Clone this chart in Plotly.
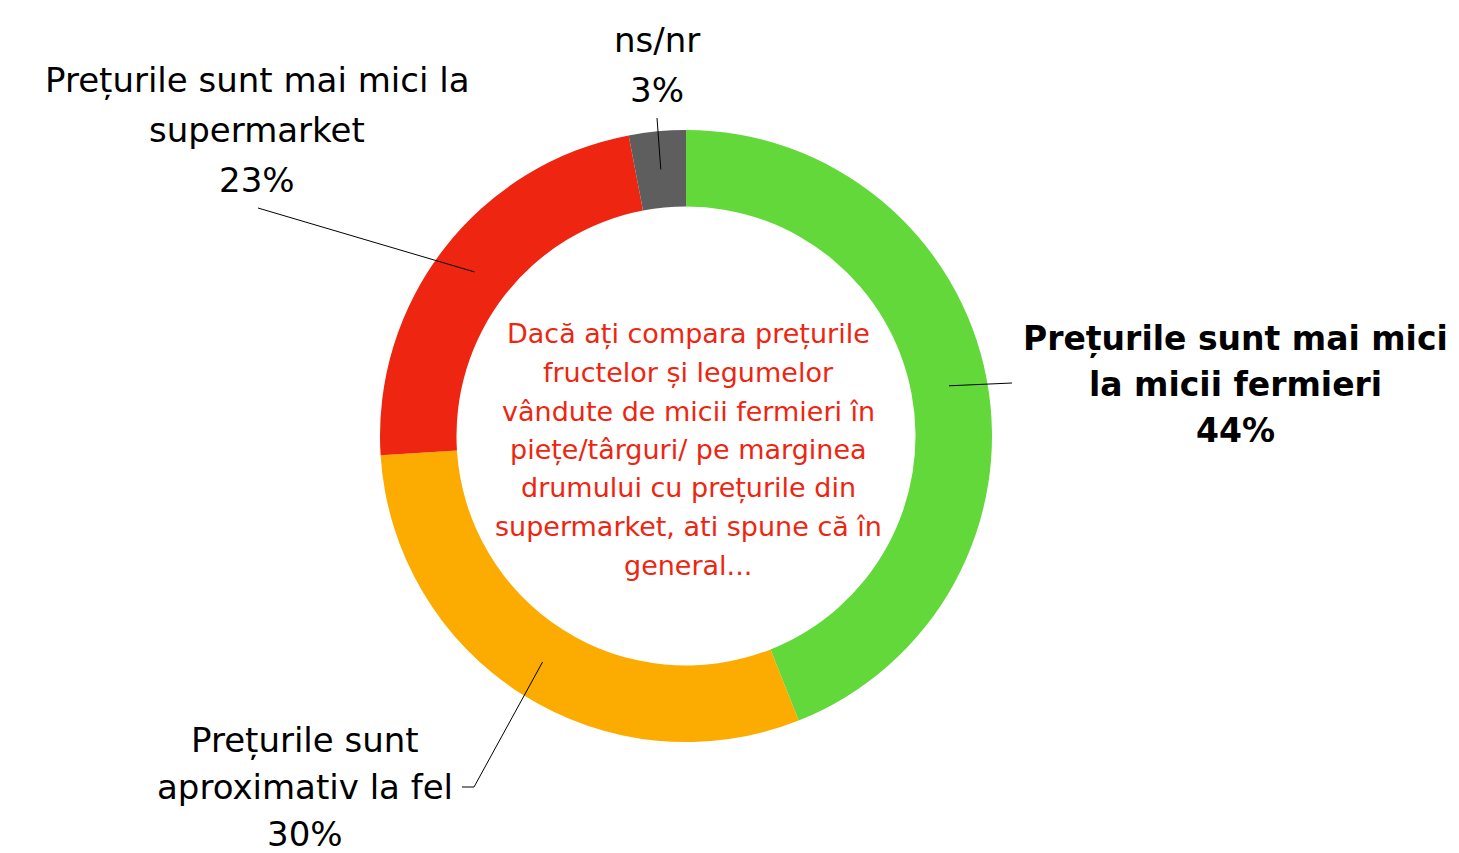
import numpy as np
import plotly.graph_objects as go

# Date
categorii = ["Prețurile sunt mai mici la micii fermieri", "Prețurile sunt aproximativ la fel",
             "Prețurile sunt mai mici la supermarket", "ns/nr"]
procente = [44, 30, 23, 3]
culori = ["#62D83A", "#FCAB00", "#EE2510", "#5E5E5E"]

# Etichete (rânduri) pentru fiecare felie
etichete = [
    ["Prețurile sunt mai mici", "la micii fermieri", "44%"],
    ["Prețurile sunt", "aproximativ la fel", "30%"],
    ["Prețurile sunt mai mici la", "supermarket", "23%"],
    ["ns/nr", "3%"],
]
intrebare = ["Dacă ați compara prețurile", "fructelor și legumelor", "vândute de micii fermieri în",
             "piețe/târguri/ pe marginea", "drumului cu prețurile din", "supermarket, ati spune că în",
             "general..."]

W, H = 1459, 853
cx, cy, R = 686, 436, 306
gaura = 0.75
FONT = "DejaVu Sans, Liberation Sans, Arial, sans-serif"

# Poziția etichetelor (pixeli) și capătul liniei de legătură
pozitii_text = [(1235, 338), (305, 740), (257, 80), (657, 40)]
capete_linie = [[(1012, 383)], [(474, 787), (462, 787)], [(258, 208)], [(657, 118)]]
bold = [True, False, False, False]
marime = [33, 34, 34, 34]
pas_rand = [46, 47, 50, 50]

fig = go.Figure()

fig.add_trace(go.Pie(
    values=procente,
    labels=categorii,
    marker=dict(colors=culori, line=dict(width=0)),
    hole=gaura,
    sort=False,
    direction="clockwise",
    rotation=0,
    textinfo="none",
    hoverinfo="label+percent",
    showlegend=False,
    domain=dict(x=[(cx - R) / W, (cx + R) / W], y=[1 - (cy + R) / H, 1 - (cy - R) / H]),
))

# Linii de legătură: pornesc din mijlocul inelului, la unghiul median al feliei
total = sum(procente)
cumul = np.cumsum([0] + procente)
r_mid = R * (1 + gaura) / 2
for i, v in enumerate(procente):
    unghi = 2 * np.pi * (cumul[i] + v / 2) / total
    x0 = cx + r_mid * np.sin(unghi)
    y0 = cy - r_mid * np.cos(unghi)
    cale = f"M {x0:.1f},{y0:.1f}" + "".join(f" L {px},{py}" for px, py in capete_linie[i])
    fig.add_shape(type="path", path=cale, xref="x", yref="y", layer="above",
                  line=dict(color="black", width=1))

# Etichete exterioare
for i, randuri in enumerate(etichete):
    tx, ty = pozitii_text[i]
    for j, rand in enumerate(randuri):
        fig.add_annotation(
            x=tx, y=ty + j * pas_rand[i], xref="x", yref="y",
            text=f"<b>{rand}</b>" if bold[i] else rand,
            showarrow=False, xanchor="center", yanchor="middle",
            font=dict(family=FONT, size=marime[i], color="black"),
        )

# Textul din centru
for j, rand in enumerate(intrebare):
    fig.add_annotation(
        x=688, y=334 + j * 38.5, xref="x", yref="y",
        text=rand, showarrow=False, xanchor="center", yanchor="middle",
        font=dict(family=FONT, size=27, color="#EE2510"),
    )

fig.update_layout(
    width=W, height=H,
    margin=dict(l=0, r=0, t=0, b=0),
    paper_bgcolor="white",
    plot_bgcolor="rgba(0,0,0,0)",
    xaxis=dict(range=[0, W], visible=False, fixedrange=True),
    yaxis=dict(range=[H, 0], visible=False, fixedrange=True),
)

fig.write_html("out.html", config={"displayModeBar": False},
               post_script="document.body.style.margin='0px';")
